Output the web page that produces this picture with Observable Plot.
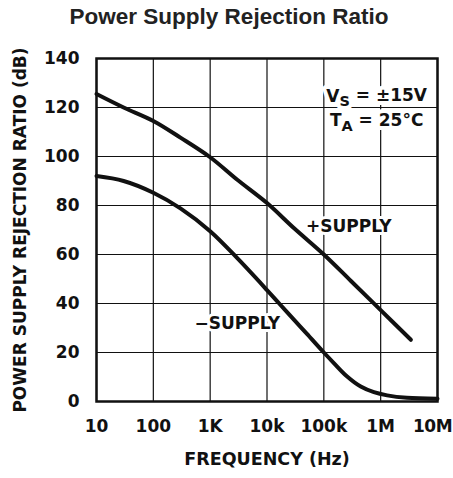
<!DOCTYPE html>
<html>
<head>
<meta charset="utf-8">
<script src="https://cdn.jsdelivr.net/npm/d3@7"></script>
<script src="https://cdn.jsdelivr.net/npm/@observablehq/plot@0.6"></script>
<style>
  body { margin: 0; background: #fff; }
  #title { height: 40px; width: 453px; position: relative; }
  #title span { position: absolute; left: 0; width: 458px; text-align: center; top: 4px;
    font: bold 22.5px "Liberation Sans", Arial, sans-serif; color: #222; }
  svg text { font-family: "DejaVu Sans", sans-serif; font-weight: bold; }
</style>
</head>
<body>
<div id="title"><span>Power Supply Rejection Ratio</span></div>
<div id="chart"></div>
<script>
// +SUPPLY curve: frequency (Hz) and PSRR (dB)
const freqPos = [10, 30, 100, 300, 1000, 3000, 10000, 30000, 100000, 300000, 1000000, 3400000];
const psrrPos = [125.5, 120, 114.5, 107.7, 99.7, 90.5, 81, 70.7, 60, 49.2, 37.3, 25.2];
// −SUPPLY curve
const freqNeg = [10, 30, 100, 300, 1000, 3000, 10000, 16400, 30000, 50000, 100000, 150000, 257000, 446000, 760000, 1300000, 2900000, 10000000];
const psrrNeg = [92, 90, 85.2, 78.8, 69.5, 58.5, 45.5, 40, 33.3, 27.7, 20, 15.7, 10.2, 6.1, 3.8, 2.5, 1.5, 1.1];
const xTicks = [10, 100, 1000, 10000, 100000, 1000000, 10000000];
const xTickLabels = ["10", "100", "1K", "10k", "100k", "1M", "10M"];
const yTicks = [0, 20, 40, 60, 80, 100, 120, 140];
const curveLabels = ["+SUPPLY", "\u2212SUPPLY"];
const curveLabelX = [275000, 3000];
const curveLabelY = [71.5, 32];
const condLabels = ["VS = \u00B115V", "TA = 25\u00B0C"];
const condX = [850000, 850000];
const condY = [124.5, 114.5];

const pos = freqPos.map((f, i) => ({f, v: psrrPos[i]}));
const neg = freqNeg.map((f, i) => ({f, v: psrrNeg[i]}));
const lbls = curveLabels.map((t, i) => ({t, x: curveLabelX[i], y: curveLabelY[i]}));
const conds = condLabels.map((t, i) => ({t, x: condX[i], y: condY[i]}));

const chart = Plot.plot({
  width: 453,
  height: 438,
  marginTop: 18,
  marginLeft: 96,
  marginRight: 16,
  marginBottom: 77,
  x: {type: "log", domain: [10, 1e7]},
  y: {domain: [0, 140]},
  marks: [
    Plot.ruleX(xTicks, {stroke: "#111", strokeWidth: 1.2}),
    Plot.ruleY(yTicks, {stroke: "#111", strokeWidth: 1.2}),
    Plot.axisX({ticks: xTicks, tickSize: 0, tickPadding: 18, fontSize: 17, label: null,
      tickFormat: (d) => xTickLabels[xTicks.indexOf(d)], fill: "#111", className: "xticks"}),
    Plot.axisY({ticks: yTicks, tickSize: 0, tickPadding: 17, fontSize: 17, label: null, fill: "#111"}),
    Plot.text(["FREQUENCY (Hz)"], {frameAnchor: "bottom", dy: 63, fontSize: 17.5, fill: "#111"}),
    Plot.text(["POWER SUPPLY REJECTION RATIO (dB)"], {frameAnchor: "left", textAnchor: "middle", dx: -76, rotate: -90, fontSize: 17, fill: "#111"}),
    Plot.line(pos, {x: "f", y: "v", curve: "catmull-rom", strokeWidth: 4, stroke: "#111"}),
    Plot.line(neg, {x: "f", y: "v", curve: "catmull-rom", strokeWidth: 4, stroke: "#111"}),
    Plot.text(lbls, {x: "x", y: "y", text: "t", fontSize: 17, fill: "#111", stroke: "white", strokeWidth: 6}),
    Plot.text(conds, {x: "x", y: "y", text: "t", fontSize: 17, fill: "#111", stroke: "white", strokeWidth: 8, className: "cond"}),
    Plot.frame({stroke: "#111", strokeWidth: 2.5})
  ]
});
document.getElementById("chart").appendChild(chart);

// keep the last x tick label inside the page edge
const xt = d3.select(chart).selectAll(".xticks text").nodes();
if (xt.length) d3.select(xt[xt.length - 1]).attr("dx", -5).attr("letter-spacing", "-0.5");

// subscripts for the condition labels
d3.select(chart).selectAll(".cond text").each(function() {
  const t = this.textContent;
  const sel = d3.select(this);
  sel.text(null);
  sel.append("tspan").text(t[0]);
  sel.append("tspan").attr("dy", "0.3em").attr("font-size", "0.85em").text(t[1]);
  sel.append("tspan").attr("dy", "-0.3em").text(t.slice(2));
});
</script>
</body>
</html>
